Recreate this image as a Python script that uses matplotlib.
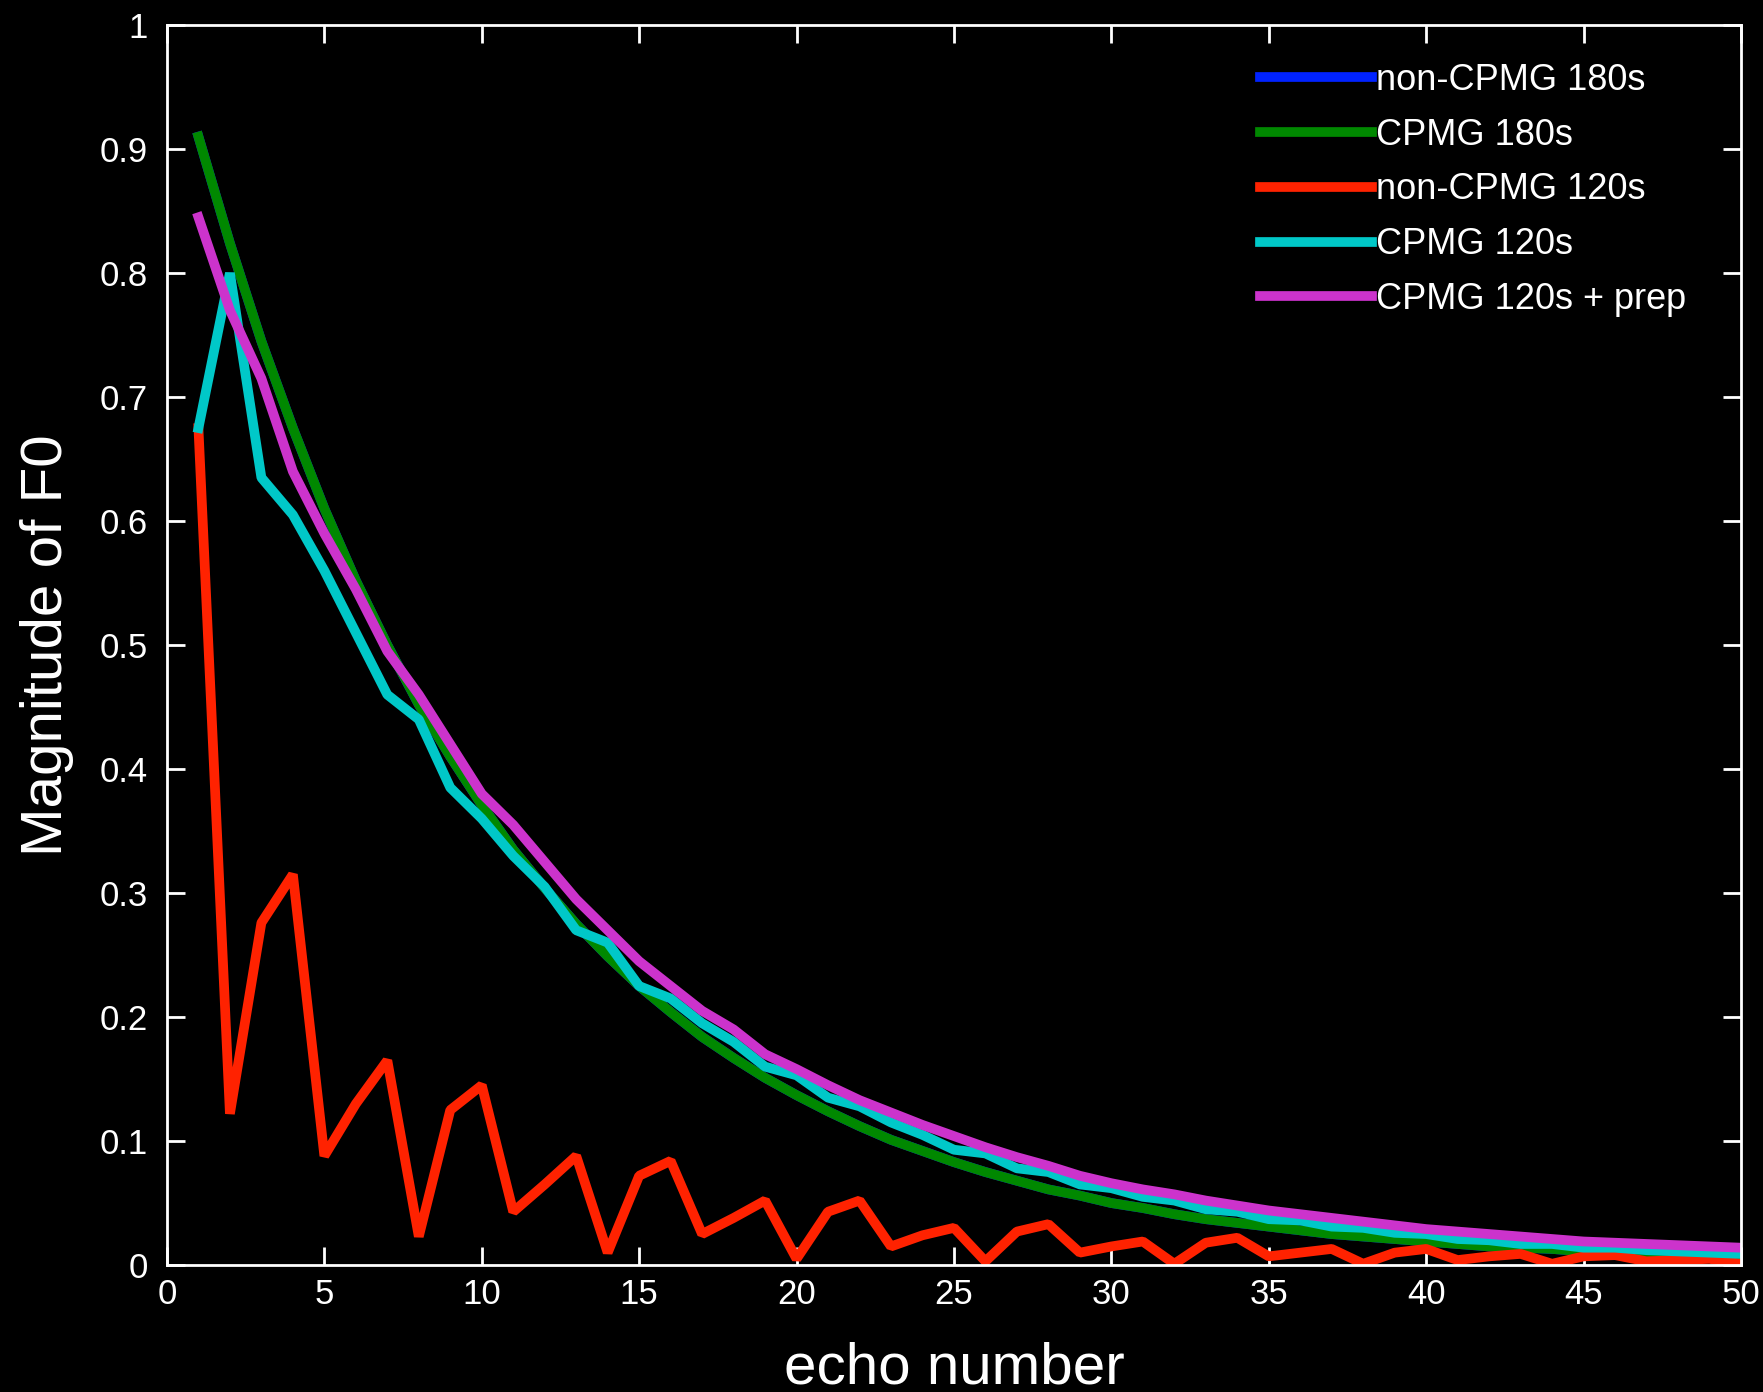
import matplotlib
matplotlib.use("Agg")
from matplotlib import pyplot as plt

# echo number 1..50
echo = list(range(1, 51))

# values
non_cpmg_180 = [0.910, 0.824, 0.745, 0.675, 0.610, 0.552, 0.500, 0.452, 0.410, 0.371,
                0.335, 0.304, 0.275, 0.249, 0.225, 0.204, 0.184, 0.167, 0.151, 0.137,
                0.124, 0.112, 0.101, 0.092, 0.083, 0.075, 0.068, 0.061, 0.056, 0.050,
                0.046, 0.041, 0.037, 0.034, 0.031, 0.028, 0.025, 0.023, 0.021, 0.019,
                0.017, 0.015, 0.014, 0.013, 0.011, 0.010, 0.009, 0.008, 0.008, 0.007]
cpmg_180 = [0.910, 0.824, 0.745, 0.675, 0.610, 0.552, 0.500, 0.452, 0.410, 0.371,
            0.335, 0.304, 0.275, 0.249, 0.225, 0.204, 0.184, 0.167, 0.151, 0.137,
            0.124, 0.112, 0.101, 0.092, 0.083, 0.075, 0.068, 0.061, 0.056, 0.050,
            0.046, 0.041, 0.037, 0.034, 0.031, 0.028, 0.025, 0.023, 0.021, 0.019,
            0.017, 0.015, 0.014, 0.013, 0.011, 0.010, 0.009, 0.008, 0.008, 0.007]
non_cpmg_120 = [0.675, 0.122, 0.276, 0.315, 0.088, 0.130, 0.165, 0.023, 0.125, 0.145,
                0.043, 0.065, 0.088, 0.010, 0.072, 0.084, 0.025, 0.038, 0.052, 0.005,
                0.043, 0.052, 0.015, 0.024, 0.030, 0.003, 0.027, 0.033, 0.010, 0.015,
                0.019, 0.001, 0.018, 0.022, 0.007, 0.010, 0.013, 0.001, 0.010, 0.013,
                0.004, 0.007, 0.009, 0.001, 0.007, 0.008, 0.003, 0.004, 0.005, 0.001]
cpmg_120 = [0.675, 0.800, 0.635, 0.605, 0.560, 0.510, 0.460, 0.440, 0.385, 0.360,
            0.330, 0.305, 0.270, 0.260, 0.225, 0.215, 0.195, 0.180, 0.160, 0.153,
            0.135, 0.128, 0.115, 0.105, 0.093, 0.090, 0.078, 0.075, 0.065, 0.062,
            0.055, 0.052, 0.045, 0.043, 0.037, 0.036, 0.031, 0.030, 0.026, 0.025,
            0.021, 0.020, 0.017, 0.017, 0.014, 0.014, 0.012, 0.011, 0.010, 0.009]
cpmg_120_prep = [0.845, 0.770, 0.715, 0.640, 0.590, 0.545, 0.495, 0.460, 0.420, 0.380,
                 0.355, 0.325, 0.295, 0.270, 0.245, 0.225, 0.205, 0.190, 0.170, 0.158,
                 0.145, 0.133, 0.123, 0.113, 0.104, 0.095, 0.087, 0.080, 0.072, 0.066,
                 0.061, 0.057, 0.052, 0.048, 0.044, 0.041, 0.038, 0.035, 0.032, 0.029,
                 0.027, 0.025, 0.023, 0.021, 0.019, 0.018, 0.017, 0.016, 0.015, 0.014]

series = [
    (non_cpmg_180, "#0022ff", "non-CPMG 180s"),
    (cpmg_180, "#008800", "CPMG 180s"),
    (non_cpmg_120, "#ff2200", "non-CPMG 120s"),
    (cpmg_120, "#00c8c8", "CPMG 120s"),
    (cpmg_120_prep, "#cc33cc", "CPMG 120s + prep"),
]

plt.rcParams['font.family'] = ['Liberation Sans', 'DejaVu Sans']

fig = plt.figure(figsize=(17.63, 13.92), dpi=100, facecolor="black")
ax = fig.add_axes([0.0947, 0.0912, 0.8928, 0.8908], facecolor="black")

for vals, col, lab in series:
    ax.plot(echo, vals, color=col, lw=7, label=lab, solid_joinstyle="bevel")

ax.set_xlim(0, 50)
ax.set_ylim(0, 1)
ax.set_xticks(range(0, 51, 5))
ax.set_yticks([i / 10 for i in range(11)])
ax.set_yticklabels(["0"] + ["%.1f" % (i / 10) for i in range(1, 10)] + ["1"])

for sp in ax.spines.values():
    sp.set_color("white")
    sp.set_linewidth(2)
ax.tick_params(direction="in", length=13, width=2, colors="white",
               top=True, right=True, labelsize=25)
ax.tick_params(axis="y", pad=14)
ax.tick_params(axis="x", pad=9)

ax.set_xlabel("echo number", color="white", fontsize=42, labelpad=22)
ax.set_ylabel("Magnitude of F0", color="white", fontsize=42, labelpad=18)

leg = ax.legend(loc="upper left", bbox_to_anchor=(0.7147, 0.955),
                bbox_transform=fig.transFigure, frameon=False, fontsize=26,
                handlelength=3.1, handletextpad=0.1, labelspacing=0.55,
                borderpad=0, borderaxespad=0)
for t in leg.get_texts():
    t.set_color("white")

fig.savefig("out.png", dpi=100, facecolor="black")
